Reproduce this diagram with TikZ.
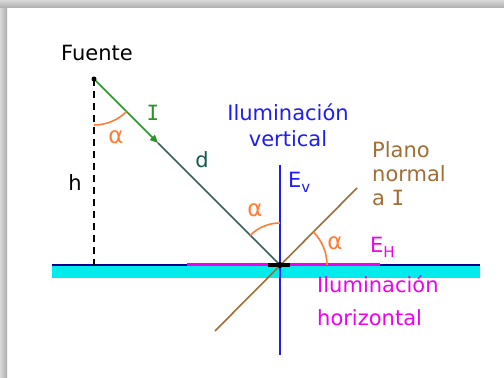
\documentclass[tikz,border=0pt]{standalone}
\usepackage{fontspec}
\setmainfont{DejaVu Sans}
\newfontfamily\serifI{DejaVu Sans Mono}
\usetikzlibrary{arrows.meta, positioning}
\definecolor{lumblue}{RGB}{30,30,240}
\definecolor{lumnavy}{RGB}{0,0,140}
\definecolor{lumcyan}{RGB}{0,235,235}
\definecolor{lummagenta}{RGB}{240,0,240}
\definecolor{lumbrown}{RGB}{160,110,55}
\definecolor{lumorange}{RGB}{255,125,55}
\definecolor{lumgreen}{RGB}{40,150,40}
\definecolor{lumslate}{RGB}{60,95,90}
\definecolor{lumteal}{RGB}{20,90,80}
\newcommand{\romI}{{\serifI I}}
\newcommand{\lowsub}[1]{\raisebox{-5pt}{\fontsize{15}{15}\selectfont #1}}

\begin{document}
\begin{tikzpicture}[
  x=1pt, y=1pt,
  every node/.style={font=\fontsize{21}{26}\selectfont, inner sep=0pt},
  angl/.style={text=lumorange, font=\fontsize{23}{23}\selectfont},
  ang/.style={lumorange, line width=1.6pt},
  ray/.style={line width=1.6pt},
  axis/.style={lumblue, line width=2.2pt}
]
  \useasboundingbox (0,0) rectangle (504,378);
  % shadow frame
  \fill[white] (0,0) rectangle (504,378);
  \shade[left color=gray!30, right color=gray!65] (0,0) rectangle (7,378);
  \shade[top color=gray!30, bottom color=gray!65] (0,370) rectangle (504,378);

  \coordinate (src)   at (94,299);
  \coordinate (O)     at (280,113);
  \coordinate (itip)  at (158,235);
  \coordinate (hfoot) at (94,113);
  \coordinate (gl)    at (52,113);
  \coordinate (gr)    at (480,113);
  \coordinate (ehl)   at (187,113);
  \coordinate (ehr)   at (380,113);
  \coordinate (vtop)  at (280,213);
  \coordinate (vbot)  at (280,23);
  \coordinate (pl)    at (215,47);
  \coordinate (pu)    at (357,190);
  \coordinate (ml)    at (268,113);
  \coordinate (mr)    at (290,113);

  % ground
  \fill[lumcyan] (52,100) rectangle (480,112);
  \draw[lumnavy, line width=2.2pt] (gl) -- (gr);
  \draw[lummagenta, line width=3pt] (ehl) -- (ehr);

  \draw[line width=2.2pt, dash pattern=on 7pt off 5pt] (src) -- (hfoot);
  \draw[ray, lumbrown] (pl) -- (pu);
  \draw[ray, lumslate] (itip) -- (O);
  \draw[ray, lumgreen, -{Triangle[length=8pt,width=7pt]}] (src) -- (itip);
  \draw[axis] (vtop) -- (vbot);

  \draw[ang] (src) ++(270:46pt) arc[start angle=270, end angle=315, radius=46pt];
  \draw[ang] (O) ++(90:42pt) arc[start angle=90, end angle=135, radius=42pt];
  \draw[ang] (O) ++(0:47pt) arc[start angle=0, end angle=45, radius=47pt];

  \draw[line width=3.5pt] (ml) -- (mr);
  \fill (O) circle (3pt);
  \fill (src) circle (2.5pt);

  \node (fuente) at (97,325) {Fuente};
  \node[text=lumgreen] (ilbl) at (153,265) {\romI};
  \node[angl] (a1) at (116,241) {α};
  \node (h) at (75,195) {h};
  \node[text=lumteal] (d) at (202,218) {d};
  \node[angl] (a2) at (255,168) {α};
  \node[angl] (a3) at (335,135) {α};
  \node[text=lumblue, anchor=west] (ev) at (288,196) {E\lowsub{v}};
  \node[text=lummagenta, anchor=west] (eh) at (370,131) {E\lowsub{H}};
  \node[text=lumblue, align=center] (ilv) at (288,253) {Iluminación\\vertical};
  \node[text=lumbrown, align=left, anchor=west] (plano) at (372,204)
       {Plano\\[-2pt]normal\\[-2pt]a \romI};
  \node[text=lummagenta, align=left, anchor=west] (ilh) at (317,77)
       {Iluminación\\[7pt]horizontal};
\end{tikzpicture}
\end{document}
